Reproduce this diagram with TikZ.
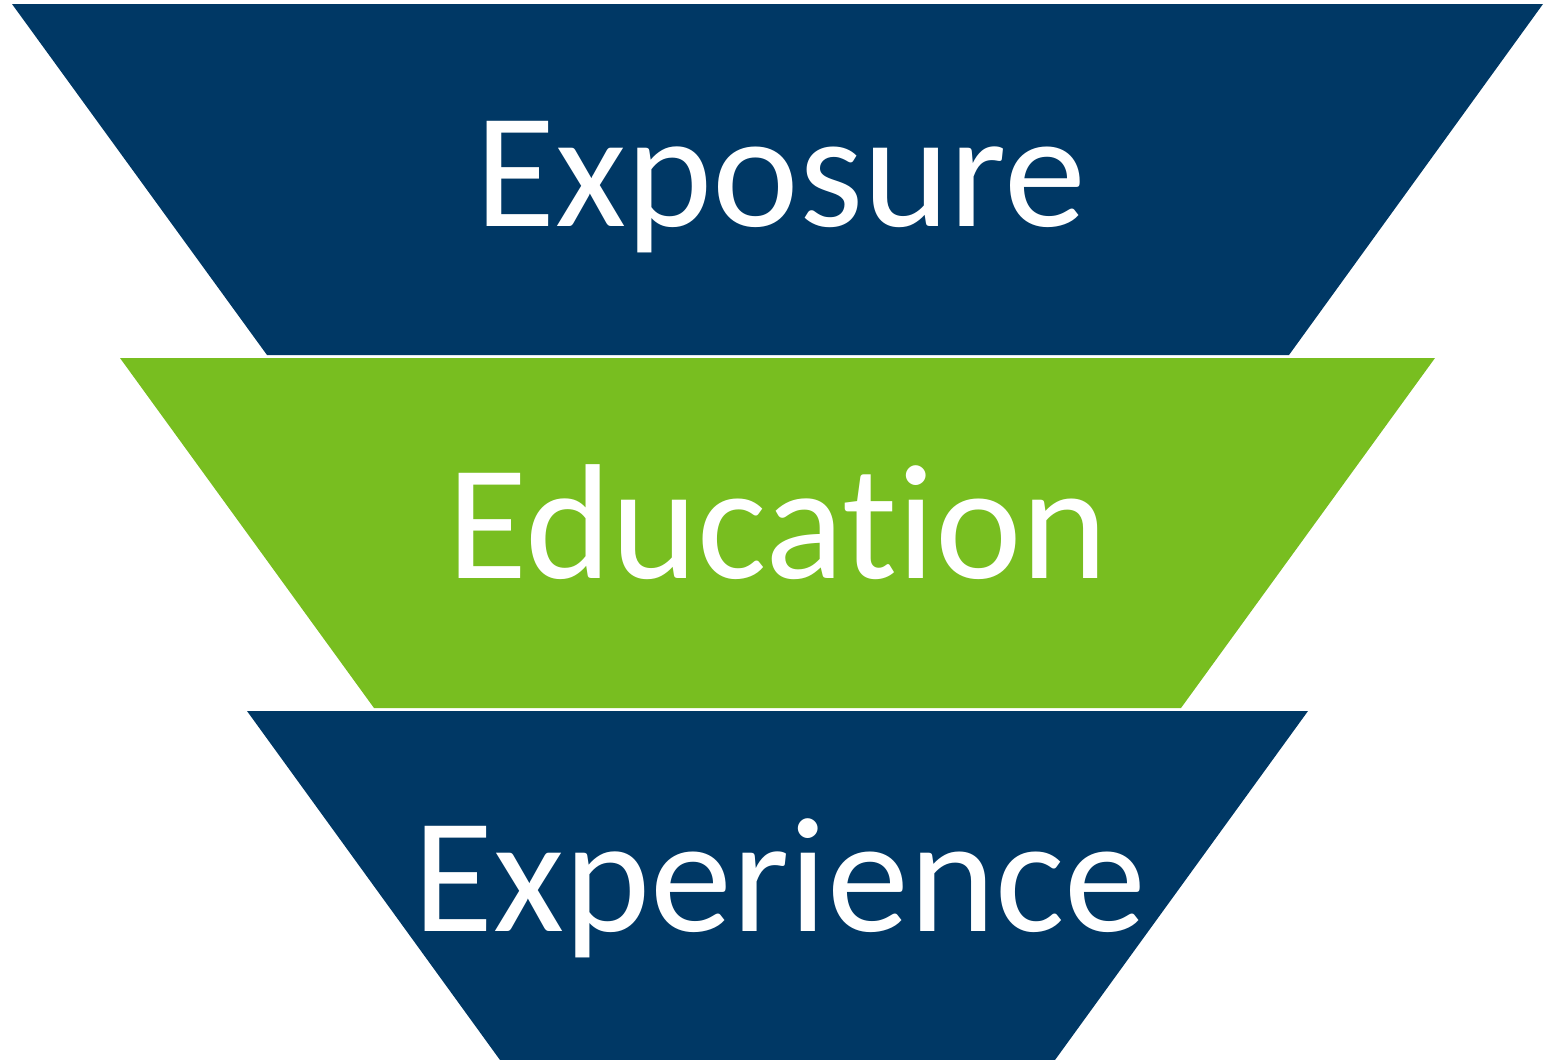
\documentclass[tikz,border=0pt]{standalone}
\usepackage{fontspec}
\setmainfont[Ligatures={NoCommon}]{Carlito}
\definecolor{funnelblue}{RGB}{0,56,101}
\definecolor{funnelgreen}{RGB}{120,190,32}
\tikzset{
  stage/.style={white,font=\fontsize{82}{98}\selectfont,anchor=base},
}

\begin{document}
\begin{tikzpicture}[x=0.5pt,y=-0.5pt]
  \useasboundingbox (0,0) rectangle (1544,1060);
  \fill[funnelblue](12,4)--(1543,4)--(1289,355)--(267,355)--cycle;
  \fill[funnelgreen](120,358)--(1435,358)--(1181,708)--(374,708)--cycle;
  \fill[funnelblue](247,711)--(1308,711)--(1055,1060)--(500,1060)--cycle;
  \node[stage] (exposure) at (781,226){Exposure};
  \node[stage] (education) at (778,578){Education};
  \node[stage] (experience) at (780,931){Experience};
\end{tikzpicture}
\end{document}
